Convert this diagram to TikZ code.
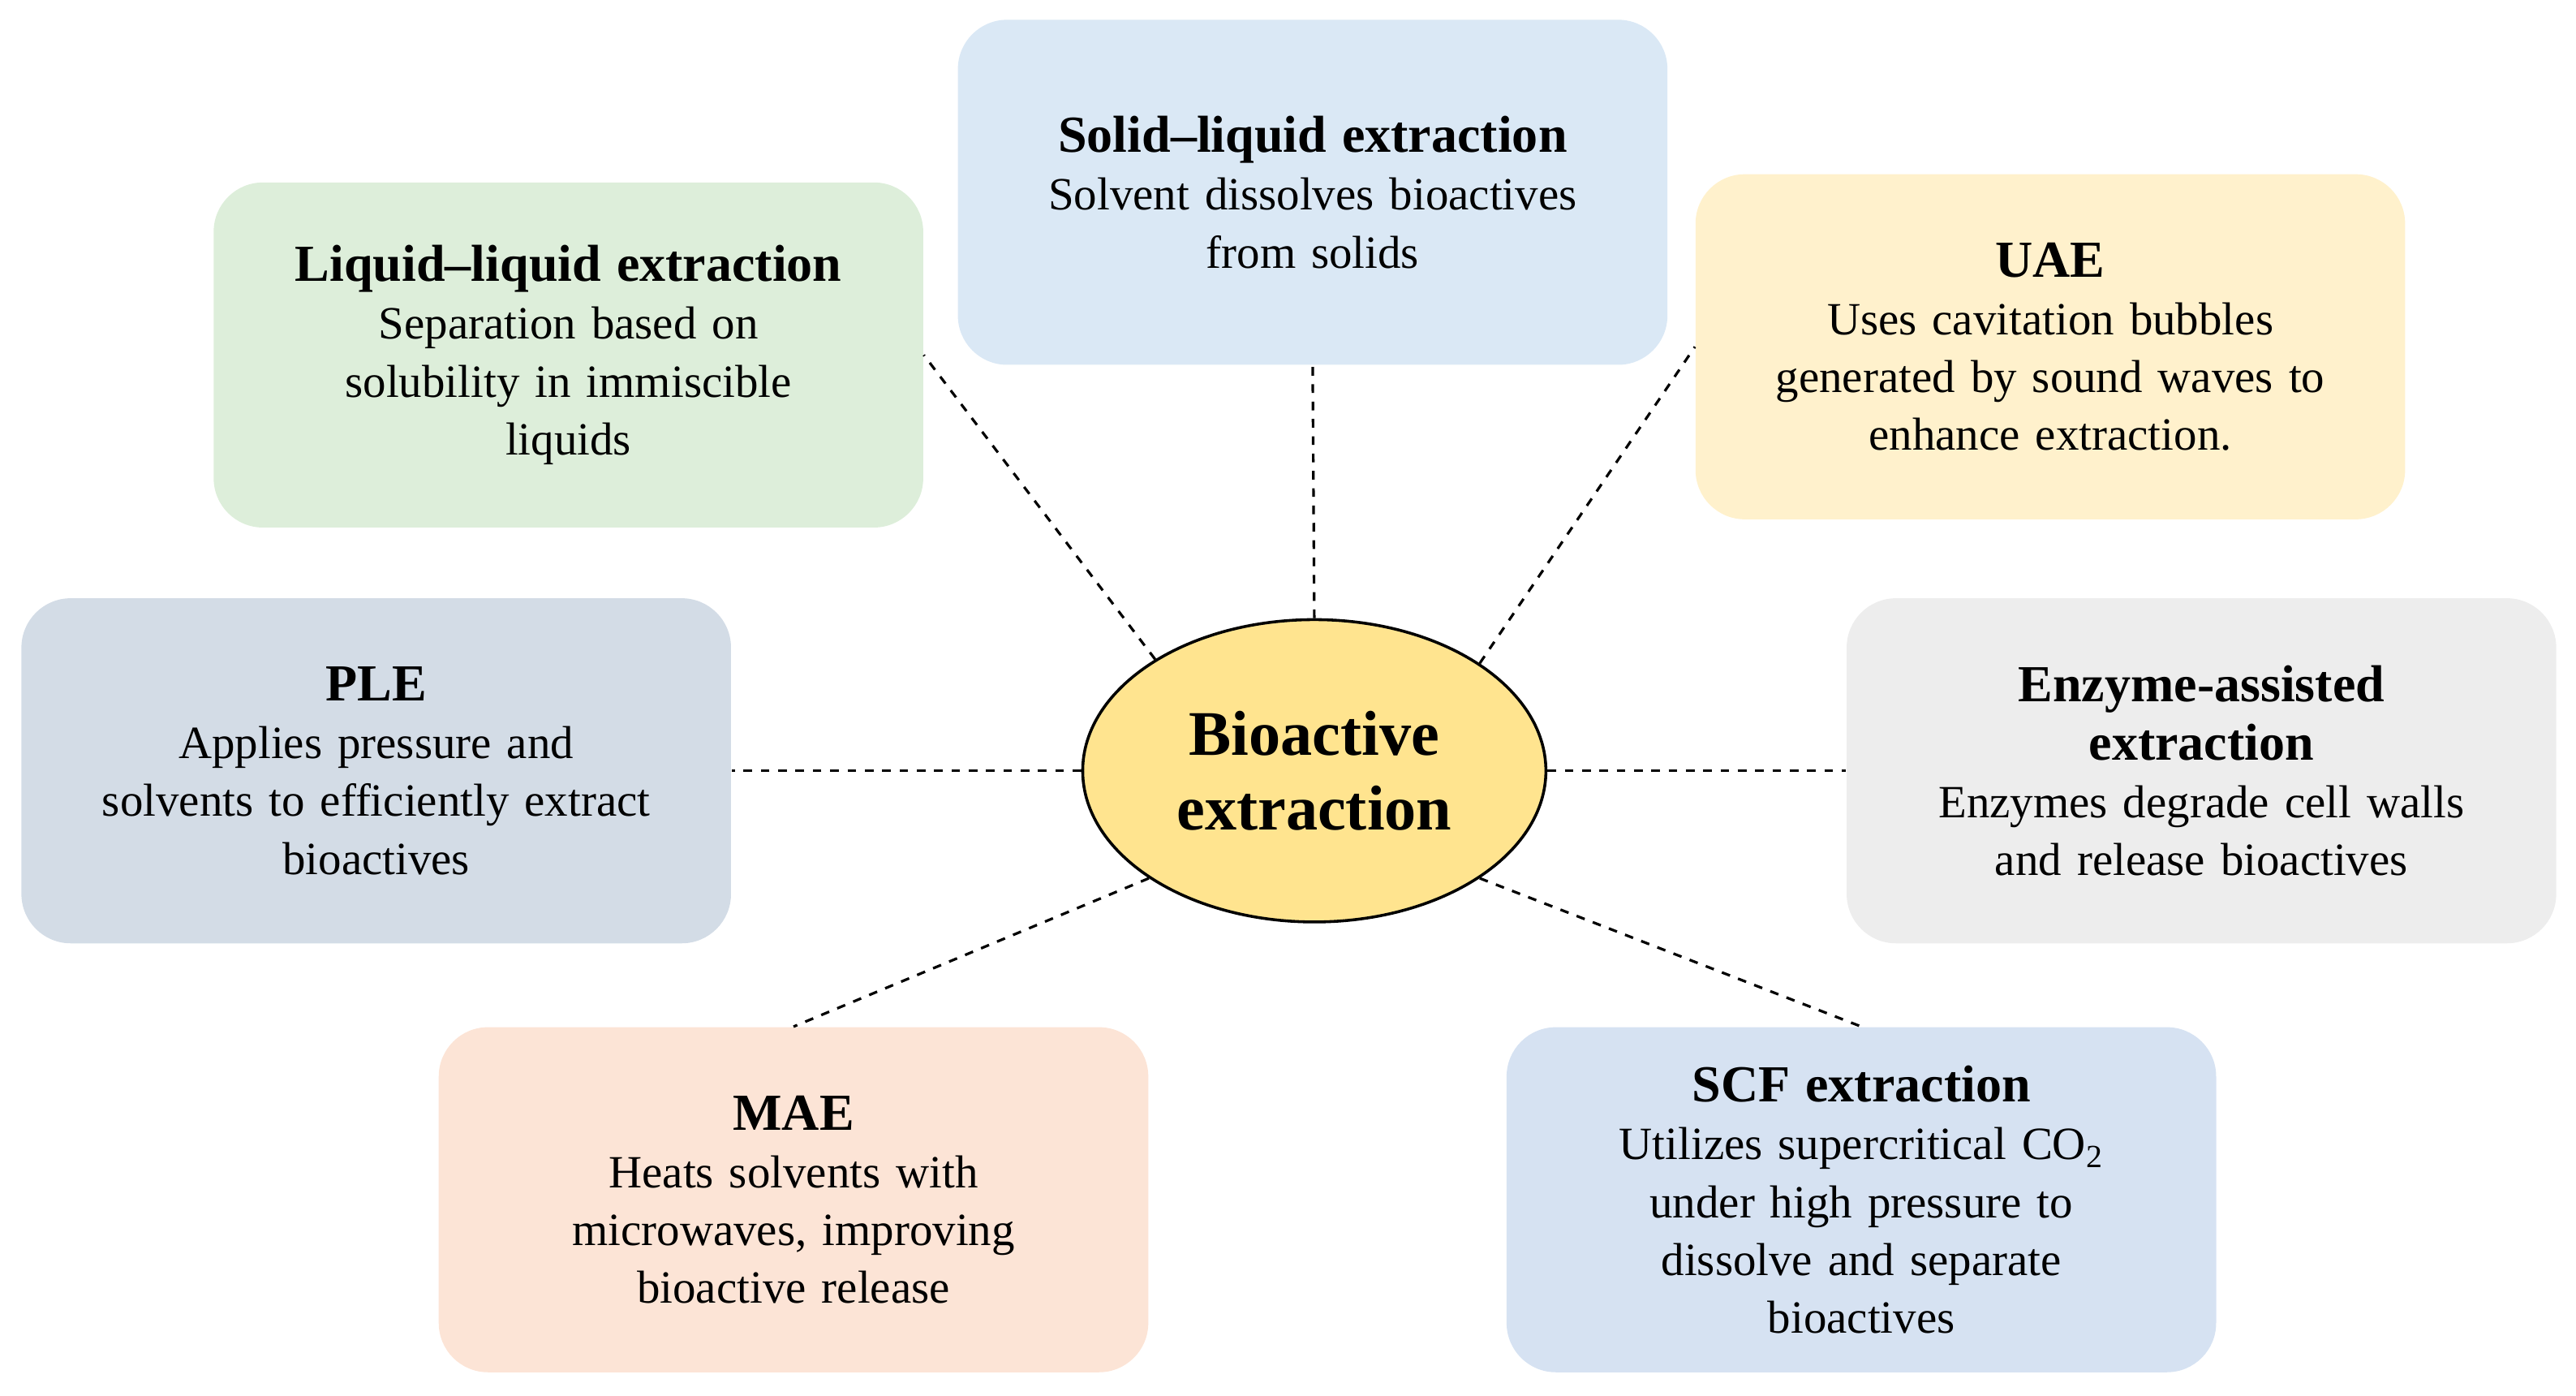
\documentclass[tikz,border=0pt]{standalone}
\usepackage{fontspec}
\setmainfont{Liberation Serif}
\usetikzlibrary{shapes.geometric}
\definecolor{cSL}{HTML}{DAE8F5}
\definecolor{cLL}{HTML}{DDEEDA}
\definecolor{cUAE}{HTML}{FFF1CC}
\definecolor{cPLE}{HTML}{D3DCE6}
\definecolor{cENZ}{HTML}{EDEDED}
\definecolor{cMAE}{HTML}{FCE4D6}
\definecolor{cSCF}{HTML}{D6E2F2}
\definecolor{cE}{HTML}{FFE48F}
\begin{document}
\begin{tikzpicture}[x=0.02cm,y=-0.02cm,
 box/.style={rounded corners=0.6cm,minimum width=8.64cm,minimum height=4.2cm,text width=8cm,align=center,inner sep=0pt,font=\fontsize{16}{20}\selectfont},
 ttl/.style={font=\fontsize{18}{22}\selectfont\bfseries},
 con/.style={dashed,line width=0.9pt}]
\useasboundingbox (0,0) rectangle (1568,849);
\node[box,fill=cSL] (sl) at (799,117) {{\fontsize{18}{22}\selectfont\bfseries Solid–liquid extraction}\\Solvent dissolves bioactives\\from solids};
\node[box,fill=cLL] (ll) at (346,216) {{\fontsize{18}{22}\selectfont\bfseries Liquid–liquid extraction}\\Separation based on\\solubility in immiscible\\liquids};
\node[box,fill=cUAE] (uae) at (1248,211) {{\fontsize{18}{22}\selectfont\bfseries UAE}\\Uses cavitation bubbles\\generated by sound waves to\\enhance extraction.};
\node[box,fill=cPLE] (ple) at (229,469) {{\fontsize{18}{22}\selectfont\bfseries PLE}\\Applies pressure and\\solvents to efficiently extract\\bioactives};
\node[box,fill=cENZ] (enz) at (1340,469) {{\fontsize{18}{22}\selectfont\bfseries Enzyme-assisted\\extraction}\\Enzymes degrade cell walls\\and release bioactives};
\node[box,fill=cMAE] (mae) at (483,730) {{\fontsize{18}{22}\selectfont\bfseries MAE}\\Heats solvents with\\microwaves, improving\\bioactive release};
\node[box,fill=cSCF] (scf) at (1133,730) {{\fontsize{18}{22}\selectfont\bfseries SCF extraction}\\Utilizes supercritical CO\textsubscript{2}\\under high pressure to\\dissolve and separate\\bioactives};
\node[ellipse,draw,line width=1pt,fill=cE,minimum width=5.64cm,minimum height=3.68cm,inner sep=0pt,align=center,font=\fontsize{22}{26}\selectfont\bfseries] (e) at (800,469) {Bioactive\\extraction};
\draw[con] (e.90) -- (sl.south);
\draw[con] (e.145.4) -- (ll.east);
\draw[con] (e.33.8) -- (uae.west);
\draw[con] (e.180) -- (ple.east);
\draw[con] (e.0) -- (enz.west);
\draw[con] (e.213.4) -- (mae.north);
\draw[con] (e.327.3) -- (scf.north);
\end{tikzpicture}
\end{document}
